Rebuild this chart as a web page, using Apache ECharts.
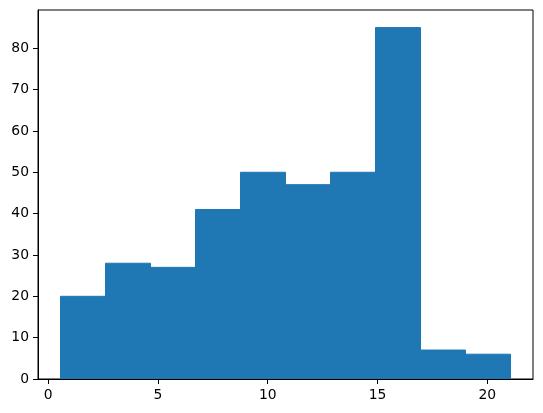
<!DOCTYPE html>
<html>
<head>
<meta charset="utf-8">
<script src="https://cdn.jsdelivr.net/npm/echarts@6/dist/echarts.min.js"></script>
<style>
  html, body { margin: 0; padding: 0; background: #fff; }
  #main { width: 543px; height: 413px; }
</style>
</head>
<body>
<div id="main"></div>
<script>
// histogram bin edges and counts
const binEdges = [0.56, 2.61, 4.66, 6.71, 8.76, 10.81, 12.86, 14.91, 16.96, 19.01, 21.06];
const counts = [20, 28, 27, 41, 50, 47, 50, 85, 7, 6];
const xTicks = [0, 5, 10, 15, 20];
const yTicks = [0, 10, 20, 30, 40, 50, 60, 70, 80];

const chart = echarts.init(document.getElementById('main'));

// matplotlib-style 5% margins around the data
const span = binEdges[binEdges.length - 1] - binEdges[0];
const xMin = binEdges[0] - span * 0.05;
const xMax = binEdges[binEdges.length - 1] + span * 0.05;
const yMax = Math.max(...counts) * 1.05;

const bars = counts.map((c, i) => [binEdges[i], binEdges[i + 1], c]);

const font = { fontFamily: 'DejaVu Sans', fontSize: 13.9, color: '#000' };

const option = {
  animation: false,
  backgroundColor: '#fff',
  grid: {
    left: 38, right: 10, top: 10, bottom: 34,
    show: true, borderColor: '#000', borderWidth: 1, backgroundColor: 'transparent'
  },
  xAxis: {
    type: 'value',
    min: xMin,
    max: xMax,
    axisLine: { show: true, onZero: false, lineStyle: { color: '#000', width: 1 } },
    axisTick: { show: true, length: 5, lineStyle: { color: '#000', width: 1 }, customValues: xTicks },
    axisLabel: Object.assign({ margin: 9, customValues: xTicks }, font),
    splitLine: { show: false }
  },
  yAxis: {
    type: 'value',
    min: 0,
    max: yMax,
    axisLine: { show: true, onZero: false, lineStyle: { color: '#000', width: 1 } },
    axisTick: { show: true, length: 5, lineStyle: { color: '#000', width: 1 }, customValues: yTicks },
    axisLabel: Object.assign({ margin: 9, customValues: yTicks }, font),
    splitLine: { show: false }
  },
  series: [{
    type: 'custom',
    data: bars,
    clip: true,
    z: 1,
    renderItem: function (params, api) {
      const p0 = api.coord([api.value(0), api.value(2)]);
      const p1 = api.coord([api.value(1), 0]);
      return {
        type: 'rect',
        shape: { x: p0[0], y: p0[1], width: p1[0] - p0[0], height: p1[1] - p0[1] },
        style: { fill: '#1f77b4', stroke: '#1f77b4', lineWidth: 1 }
      };
    },
    encode: { x: [0, 1], y: 2 }
  }]
};

chart.setOption(option);
</script>
</body>
</html>
